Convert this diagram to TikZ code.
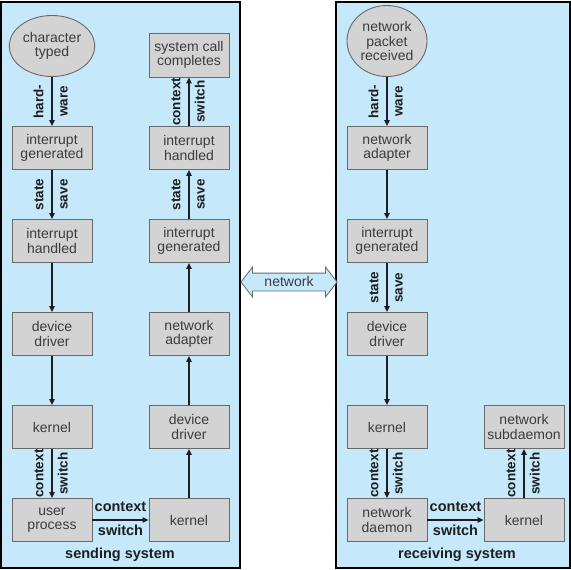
\documentclass[tikz,border=0pt]{standalone}
\usepackage{fontspec}
\setmainfont{Liberation Sans}
\usepackage{xcolor}
\definecolor{panelblue}{RGB}{197,232,250}
\definecolor{boxgray}{RGB}{211,211,211}
\definecolor{edgegray}{RGB}{105,105,105}
\definecolor{textgray}{RGB}{60,60,60}
\definecolor{inkcolor}{RGB}{30,30,30}
\usepackage{tikz}
\usetikzlibrary{arrows.meta,shapes.geometric,shapes.arrows}

\begin{document}
\begin{tikzpicture}[x=1pt, y=-1pt,
  every node/.style={font=\fontsize{14}{14.3}\selectfont, text=textgray},
  box/.style={draw=edgegray, fill=boxgray, line width=0.9pt, minimum width=80pt, minimum height=43pt, align=center, inner sep=1pt},
  blob/.style={ellipse, draw=edgegray, fill=boxgray, line width=0.9pt, minimum width=80pt, align=center, inner sep=1pt},
  flow/.style={-{Triangle[length=6pt,width=5.5pt]}, line width=1.3pt, color=inkcolor},
  tag/.style={font=\bfseries\fontsize{13.5}{14}\selectfont, text=inkcolor, inner sep=5pt, text height=10pt, text depth=3pt},
  vtag/.style={tag, rotate=90, midway},
  htag/.style={tag, midway, font=\bfseries\fontsize{14.5}{15}\selectfont},
  panel/.style={draw=black, fill=panelblue, line width=1.5pt}]
  \useasboundingbox (0,0) rectangle (571,570);
  \path[panel] (1,2) rectangle (240,568);
  \path[panel] (336,2) rectangle (570,568);

  % sending system
  \node[blob, minimum height=61pt] (chartyped) at (52,46) {character\\typed};
  \node[box] (intgen) at (52,148) {interrupt\\generated};
  \node[box] (inthand) at (52,241) {interrupt\\handled};
  \node[box] (devdrv) at (52,334) {device\\driver};
  \node[box] (kern) at (52,427) {kernel};
  \node[box] (userproc) at (52,520) {user\\process};
  \node[box] (kernS) at (189,520) {kernel};
  \node[box] (devdrvS) at (189,427) {device\\driver};
  \node[box] (netadpS) at (189,334) {network\\adapter};
  \node[box] (intgenS) at (189,241) {interrupt\\generated};
  \node[box] (inthandS) at (189,148) {interrupt\\handled};
  \node[box, minimum height=44pt] (syscall) at (189,55) {system call\\completes};
  \node[tag, font=\bfseries\fontsize{14.5}{16}\selectfont] (sendlbl) at (120,555) {sending system};

  \draw[flow] (chartyped) -- (intgen) node[vtag, above] {hard-} node[vtag, below] {ware};
  \draw[flow] (intgen) -- (inthand) node[vtag, above] {state} node[vtag, below] {save};
  \draw[flow] (inthand) -- (devdrv);
  \draw[flow] (devdrv) -- (kern);
  \draw[flow] (kern) -- (userproc) node[vtag, above] {context} node[vtag, below] {switch};
  \draw[flow] (userproc) -- (kernS) node[htag, above] {context} node[htag, below] {switch};
  \draw[flow] (kernS) -- (devdrvS);
  \draw[flow] (devdrvS) -- (netadpS);
  \draw[flow] (netadpS) -- (intgenS);
  \draw[flow] (intgenS) -- (inthandS) node[vtag, above] {state} node[vtag, below] {save};
  \draw[flow] (inthandS) -- (syscall) node[vtag, above] {context} node[vtag, below] {switch};

  % receiving system
  \node[blob, minimum height=71pt] (pktrecv) at (387,41) {network\\packet\\received};
  \node[box] (netadpR) at (387,148) {network\\adapter};
  \node[box] (intgenR) at (387,241) {interrupt\\generated};
  \node[box] (devdrvR) at (387,334) {device\\driver};
  \node[box] (kernR) at (387,427) {kernel};
  \node[box] (netdmn) at (387,520) {network\\daemon};
  \node[box] (kernR2) at (524,520) {kernel};
  \node[box] (subdmn) at (524,427) {network\\subdaemon};
  \node[tag, font=\bfseries\fontsize{14.5}{16}\selectfont] (recvlbl) at (457,555) {receiving system};

  \draw[flow] (pktrecv) -- (netadpR) node[vtag, above] {hard-} node[vtag, below] {ware};
  \draw[flow] (netadpR) -- (intgenR);
  \draw[flow] (intgenR) -- (devdrvR) node[vtag, above] {state} node[vtag, below] {save};
  \draw[flow] (devdrvR) -- (kernR);
  \draw[flow] (kernR) -- (netdmn) node[vtag, above] {context} node[vtag, below] {switch};
  \draw[flow] (netdmn) -- (kernR2) node[htag, above] {context} node[htag, below] {switch};
  \draw[flow] (kernR2) -- (subdmn) node[vtag, above] {context} node[vtag, below] {switch};

  % link between the two
  \node[double arrow, draw=edgegray, fill=panelblue, line width=0.8pt, minimum height=96pt,
        double arrow head extend=6pt, double arrow tip angle=105, inner xsep=2pt, inner ysep=3.5pt,
        text height=9pt, text depth=1pt] (netlink) at (289,282) {network};
\end{tikzpicture}
\end{document}
